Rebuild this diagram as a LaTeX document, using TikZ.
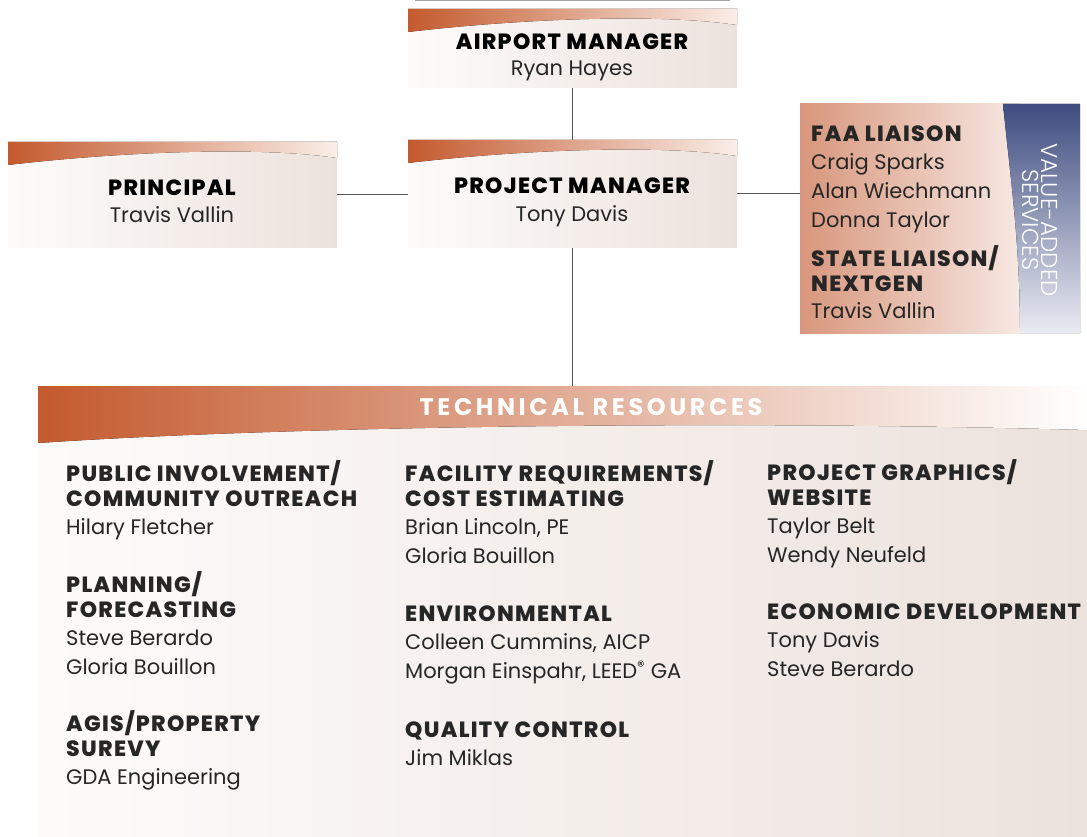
\documentclass[tikz,border=0pt]{standalone}
\usepackage{fontspec}
\setmainfont{Poppins}
\newfontfamily\thinfont{Poppins Light}
\newfontfamily\heavyfont{Poppins ExtraBold}[LetterSpace=6]
\usepackage{tikz}
\usetikzlibrary{calc, positioning, arrows}

\definecolor{rust}{RGB}{196,90,46}
\definecolor{rustfade}{RGB}{250,238,232}
\definecolor{paperl}{RGB}{253,251,250}
\definecolor{paperr}{RGB}{236,226,221}
\definecolor{salmon}{RGB}{216,150,124}
\definecolor{slate}{RGB}{62,76,128}
\definecolor{slatefade}{RGB}{234,235,242}
\definecolor{wire}{RGB}{85,85,85}

\newcommand{\rolehead}[1]{{\heavyfont\fontsize{22}{25}\selectfont #1}}

\tikzstyle{card}=[minimum width=329pt, inner sep=0pt, left color=paperl, right color=paperr,
  path picture={
    \fill[left color=rust, right color=rustfade]
      (path picture bounding box.north west) -- (path picture bounding box.north east)
      -- ($(path picture bounding box.north east)+(0,-16pt)$)
      .. controls ($(path picture bounding box.north west)+(250pt,-4pt)$)
      and ($(path picture bounding box.north west)+(110pt,-10pt)$)
      .. ($(path picture bounding box.north west)+(0,-23pt)$) -- cycle;}]
\tikzstyle{panel}=[inner sep=0pt, left color=paperl, right color=paperr,
  path picture={
    \fill[left color=rust, right color=white]
      (path picture bounding box.north west) -- (path picture bounding box.north east)
      -- ($(path picture bounding box.north east)+(0,-44pt)$)
      .. controls ($(path picture bounding box.north west)+(700pt,-34pt)$)
      and ($(path picture bounding box.north west)+(250pt,-40pt)$)
      .. ($(path picture bounding box.north west)+(0,-57pt)$) -- cycle;}]
\tikzstyle{head}=[font=\heavyfont\fontsize{22}{25}\selectfont, inner sep=0pt, text height=15pt, text depth=0pt]
\tikzstyle{who}=[font=\fontsize{21}{25}\selectfont, inner sep=0pt, text height=15pt, text depth=0pt, text=black!85]
\tikzstyle{team}=[font=\fontsize{21}{25}\selectfont, align=left, anchor=north west, inner sep=0pt, text=black!85]
\tikzstyle{wire}=[draw=wire, line width=1pt]

\begin{document}
\begin{tikzpicture}[x=1pt, y=-1pt, node distance=27pt]
  \useasboundingbox (0,0) rectangle (1087,837);
  \fill[white] (0,0) rectangle (1087,837);
  \draw[gray!70, line width=2pt] (415,0.5) -- (730,0.5);

  % top of the chart
  \node [card, minimum height=79pt] (am) at (572.5,48.5) {};
  \node [head] (amh) at (572,42) {AIRPORT MANAGER};
  \node [who] (amn) [below of=amh, node distance=26pt] {Ryan Hayes};

  \node [card, minimum height=108pt] (pm) at (572.5,194) {};
  \node [head] (pmh) at (572,186) {PROJECT MANAGER};
  \node [who] (pmn) [below of=pmh, node distance=28pt] {Tony Davis};

  \node [card, minimum height=106pt] (prin) at (172.5,195) {};
  \node [head] (prinh) at (172,188) {PRINCIPAL};
  \node [who] (prinn) [below of=prinh] {Travis Vallin};

  % liaison box
  \node [inner sep=0pt, minimum width=280pt, minimum height=229pt,
    path picture={
      \fill[left color=salmon, right color=white]
        (path picture bounding box.south west) rectangle ($(path picture bounding box.north east)+(-60pt,0)$);
      \fill[top color=slate, bottom color=slatefade]
        ($(path picture bounding box.north west)+(203pt,0)$)
        .. controls +(8pt,-80pt) and +(0pt,90pt) .. ($(path picture bounding box.south west)+(220pt,0)$)
        -- (path picture bounding box.south east) -- (path picture bounding box.north east) -- cycle;}]
    (faa) at (940,218.5) {};
  \node [team] (faat) at (811,126) {\rolehead{FAA LIAISON}\\[3pt]Craig Sparks\\[4pt]Alan Wiechmann\\[4pt]Donna Taylor\\[11pt]\rolehead{STATE LIAISON/}\\\rolehead{NEXTGEN}\\[2pt]Travis Vallin};
  \node [rotate=-90, font=\thinfont\fontsize{23}{19}\selectfont, text=white, align=center, inner sep=0pt] (vas) at (1040,220) {VALUE-ADDED\\SERVICES};

  % technical resources
  \node [panel, minimum width=1049pt, minimum height=451pt] (tech) at (562.5,611.5) {};
  \node [font=\fontsize{24}{25}\selectfont\bfseries\addfontfeatures{LetterSpace=15}, text=white, inner sep=0pt, text height=16pt, text depth=0pt] (techh) at (591,407) {TECHNICAL RESOURCES};

  \node [team] (pubg) at (66,460) {\rolehead{PUBLIC INVOLVEMENT/}\\\rolehead{COMMUNITY OUTREACH}\\[3pt]Hilary Fletcher};
  \node [team] (plang) at (66,571) {\rolehead{PLANNING/}\\\rolehead{FORECASTING}\\[3pt]Steve Berardo\\[4pt]Gloria Bouillon};
  \node [team] (agisg) at (66,710) {\rolehead{AGIS/PROPERTY}\\\rolehead{SUREVY}\\[3pt]GDA Engineering};
  \node [team] (facg) at (405,460) {\rolehead{FACILITY REQUIREMENTS/}\\\rolehead{COST ESTIMATING}\\[3pt]Brian Lincoln, PE\\[4pt]Gloria Bouillon};
  \node [team] (envg) at (405,606) {\rolehead{ENVIRONMENTAL}\\[3pt]Colleen Cummins, AICP\\[4pt]Morgan Einspahr, LEED\textsuperscript{®} GA};
  \node [team] (qcg) at (405,722) {\rolehead{QUALITY CONTROL}\\[3pt]Jim Miklas};
  \node [team] (gfxg) at (767,459) {\rolehead{PROJECT GRAPHICS/}\\\rolehead{WEBSITE}\\[3pt]Taylor Belt\\[4pt]Wendy Neufeld};
  \node [team] (econg) at (767,604) {\rolehead{ECONOMIC DEVELOPMENT}\\[3pt]Tony Davis\\[4pt]Steve Berardo};

  % reporting lines
  \draw [wire] (am) -- (pm);
  \draw [wire] (prin.east) -- (prin.east -| pm.west);
  \draw [wire] (pm.east) -- (pm.east -| faa.west);
  \draw [wire] (pm.south) -- (pm.south |- tech.north);
\end{tikzpicture}
\end{document}
